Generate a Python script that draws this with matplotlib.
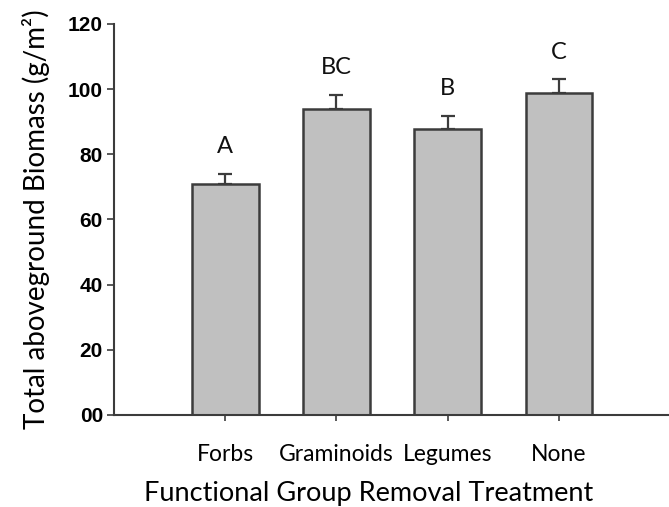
import matplotlib.pyplot as plt
import numpy as np

categories = ["Forbs", "Graminoids", "Legumes", "None"]
biomass = [71.0, 93.8, 87.7, 98.7]
se = [3.1, 4.5, 4.2, 4.3]
letters = ["A", "BC", "B", "C"]
yticks = [0, 20, 40, 60, 80, 100, 120]
ytick_labels = ["00", "20", "40", "60", "80", "100", "120"]

edge = "#3c3c3c"

fig = plt.figure(figsize=(6.69, 5.07), dpi=100)
ax = fig.add_axes([0.1704, 0.1815, 0.8296, 0.7712])

x = np.arange(len(categories))
ax.bar(x, biomass, width=0.6, color="#c0c0c0", edgecolor=edge, linewidth=1.8, zorder=2)
ax.errorbar(x, biomass, yerr=[[0] * len(se), se], fmt="none", ecolor=edge,
            elinewidth=1.6, capsize=5, capthick=1.6, zorder=1)

# significance letters above the error bars
for xi, b, e, lab in zip(x, biomass, se, letters):
    ax.text(xi, b + e + 5.0, lab, ha="center", va="bottom", fontsize=17,
            family="Lato", color="#111111")

ax.set_xlim(-1.0, 3.99)
ax.set_ylim(0, 120)
ax.set_yticks(yticks)
ax.set_yticklabels(ytick_labels, fontsize=15, fontweight="bold", family="Liberation Sans")
ax.set_xticks(x)
ax.set_xticklabels(categories, fontsize=16.5, family="Lato")

for s in ["top", "right"]:
    ax.spines[s].set_visible(False)
for s in ["left", "bottom"]:
    ax.spines[s].set_color(edge)
    ax.spines[s].set_linewidth(1.5)

ax.tick_params(axis="y", length=5, width=1.2, color=edge, pad=3)
ax.tick_params(axis="x", length=4, width=1.2, color=edge, pad=17)

ax.set_xlabel("Functional Group Removal Treatment", fontsize=19.5, family="Lato")
ax.xaxis.set_label_coords(0.459, -0.168)
ax.set_ylabel("Total aboveground Biomass (g/m²)", fontsize=20, family="Lato", labelpad=13)

fig.savefig("out.png", dpi=100)
